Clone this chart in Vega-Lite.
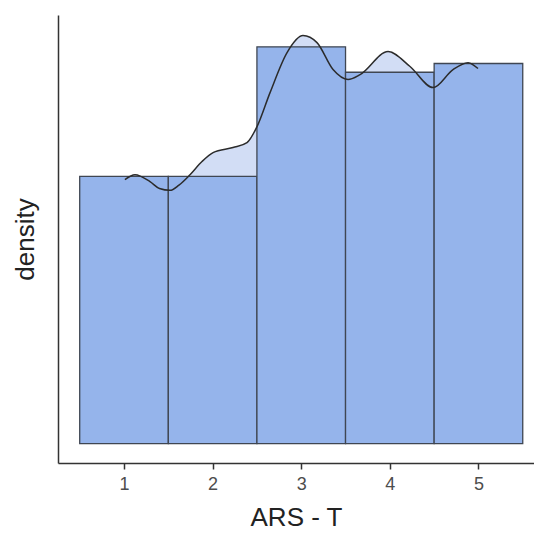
{
  "$schema": "https://vega.github.io/schema/vega-lite/v6.json",
  "width": 476,
  "height": 448,
  "autosize": {"type": "none"},
  "padding": {"left": 58, "top": 15, "right": 0, "bottom": 79},
  "background": "white",
  "config": {"view": {"stroke": null}, "font": "Liberation Sans"},
  "datasets": {
    "bars": [
      {"x0": 0.5, "x1": 1.5, "density": 0.1587},
      {"x0": 1.5, "x1": 2.5, "density": 0.1587},
      {"x0": 2.5, "x1": 3.5, "density": 0.2356},
      {"x0": 3.5, "x1": 4.5, "density": 0.2205},
      {"x0": 4.5, "x1": 5.5, "density": 0.2257}
    ],
    "kde": [
      {"x": 1.01, "density": 0.1568},
      {"x": 1.124, "density": 0.1597},
      {"x": 1.293, "density": 0.1556},
      {"x": 1.4, "density": 0.1515},
      {"x": 1.519, "density": 0.1504},
      {"x": 1.62, "density": 0.1535},
      {"x": 1.745, "density": 0.1597},
      {"x": 1.88, "density": 0.1675},
      {"x": 2.005, "density": 0.1728},
      {"x": 2.23, "density": 0.1758},
      {"x": 2.388, "density": 0.1787},
      {"x": 2.501, "density": 0.1882},
      {"x": 2.648, "density": 0.2084},
      {"x": 2.84, "density": 0.2322},
      {"x": 3.02, "density": 0.2423},
      {"x": 3.178, "density": 0.2381},
      {"x": 3.359, "density": 0.2221},
      {"x": 3.528, "density": 0.2162},
      {"x": 3.664, "density": 0.2191},
      {"x": 3.98, "density": 0.2328},
      {"x": 4.228, "density": 0.2239},
      {"x": 4.488, "density": 0.2114},
      {"x": 4.713, "density": 0.2221},
      {"x": 4.883, "density": 0.2262},
      {"x": 4.995, "density": 0.2227}
    ]
  },
  "layer": [
    {
      "data": {"name": "kde"},
      "mark": {"type": "area", "interpolate": "monotone", "color": "#d2ddf5"},
      "encoding": {
        "x": {
          "field": "x", "type": "quantitative",
          "scale": {"domain": [0.255, 5.627], "nice": false, "zero": false},
          "axis": {
            "values": [1, 2, 3, 4, 5], "format": "d", "title": "ARS - T", "grid": false,
            "domainColor": "#333333", "domainWidth": 1.5,
            "tickColor": "#333333", "tickWidth": 1.5, "tickSize": 6,
            "labelFontSize": 18, "labelColor": "#4d4d4d", "labelPadding": 6,
            "titleFontSize": 26, "titleFontWeight": "normal", "titleColor": "#222222", "titlePadding": 11
          }
        },
        "y": {
          "field": "density", "type": "quantitative",
          "scale": {"domain": [-0.0115, 0.2545], "nice": false, "zero": false},
          "axis": {
            "title": "density", "grid": false, "ticks": false, "labels": false,
            "domainColor": "#333333", "domainWidth": 1.5,
            "titleFontSize": 26, "titleFontWeight": "normal", "titleColor": "#222222", "titlePadding": 20
          }
        },
        "y2": {"datum": 0}
      }
    },
    {
      "data": {"name": "bars"},
      "mark": {"type": "rect", "fill": "#95b4eb", "stroke": "#3f4652", "strokeWidth": 1.3},
      "encoding": {
        "x": {"field": "x0", "type": "quantitative"},
        "x2": {"field": "x1"},
        "y": {"field": "density", "type": "quantitative"},
        "y2": {"datum": 0}
      }
    },
    {
      "data": {"name": "kde"},
      "mark": {"type": "line", "interpolate": "monotone", "color": "#2b2b2b", "strokeWidth": 1.5},
      "encoding": {
        "x": {"field": "x", "type": "quantitative"},
        "y": {"field": "density", "type": "quantitative"}
      }
    }
  ]
}
